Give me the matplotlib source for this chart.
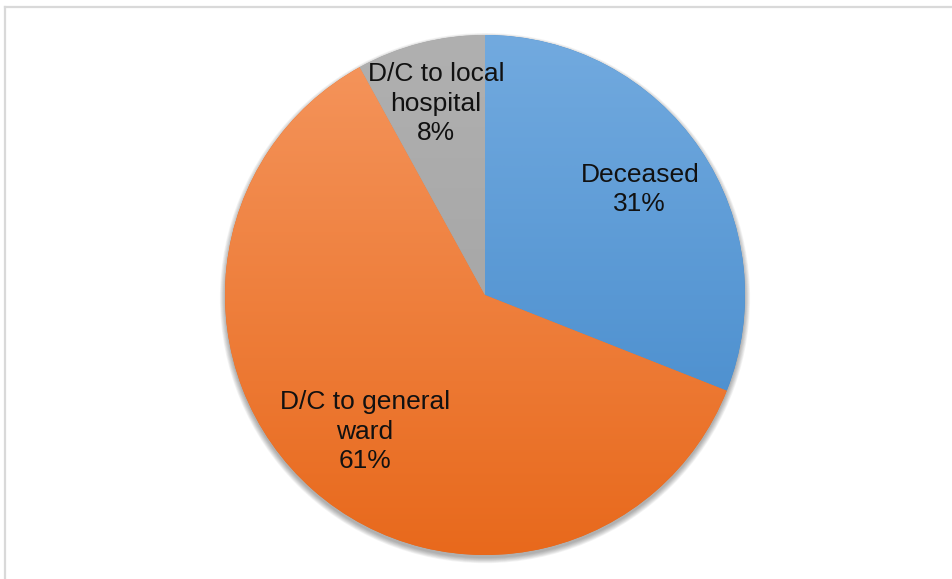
import numpy as np
import matplotlib.pyplot as plt
from matplotlib.patches import Circle
from matplotlib.lines import Line2D
from matplotlib.colors import LinearSegmentedColormap

plt.rcParams['font.family'] = ['Liberation Sans', 'DejaVu Sans']

categories = ['Deceased', 'D/C to general ward', 'D/C to local hospital']
label_text = ['Deceased', 'D/C to general\nward', 'D/C to local\nhospital']
values = [31, 61, 8]

# top / bottom colours of each slice gradient
grad_colors = [('#72aadf', '#3f86c9'), ('#f5965e', '#e8691c'), ('#b0b0b0', '#9f9f9f')]
label_r = [0.72, 0.70, 0.76]

W, H = 953, 579
fig = plt.figure(figsize=(W / 100, H / 100), dpi=100)

# pie centred at (485, 295) px with a 260 px radius
cx, cy, R = 485, 295, 260
ax = fig.add_axes([(cx - R) / W, (H - cy - R) / H, 2 * R / W, 2 * R / H])
ax.set_xlim(-1, 1)
ax.set_ylim(-1, 1)
ax.set_aspect('equal')
ax.axis('off')

# soft shadow under the pie, pushed slightly downward
for k in range(8):
    ax.add_patch(Circle((0.0, -0.012), 1 + 0.0028 * k, color='#000000',
                        alpha=0.045, lw=0, zorder=0, clip_on=False))

wedges, _ = ax.pie(values, startangle=90, counterclock=False,
                   colors=[c[1] for c in grad_colors], radius=1,
                   wedgeprops=dict(linewidth=0))

grad = np.linspace(0, 1, 256).reshape(-1, 1)
for w, (top, bot) in zip(wedges, grad_colors):
    w.set_zorder(2)
    cmap = LinearSegmentedColormap.from_list('g', [top, bot])
    im = ax.imshow(grad, cmap=cmap, extent=[-1, 1, -1, 1], origin='upper',
                   aspect='auto', zorder=3, interpolation='bilinear')
    im.set_clip_path(w)

for w, txt, v, r in zip(wedges, label_text, values, label_r):
    mid = np.deg2rad((w.theta1 + w.theta2) / 2)
    ax.text(r * np.cos(mid), r * np.sin(mid), f'{txt}\n{v}%',
            ha='center', va='center', fontsize=19, color='#111111',
            linespacing=1.28, zorder=5)

ax.set_xlim(-1, 1)
ax.set_ylim(-1, 1)

# chart frame (only top and left edges fall inside the image)
fx, fy = 5.5 / W, (H - 6.5) / H
fig.add_artist(Line2D([fx, 1.0], [fy, fy], transform=fig.transFigure,
                      color='#d9d9d9', lw=1.6))
fig.add_artist(Line2D([fx, fx], [fy, 0.0], transform=fig.transFigure,
                      color='#d9d9d9', lw=1.6))

fig.savefig('out.png', dpi=100, facecolor='white')
